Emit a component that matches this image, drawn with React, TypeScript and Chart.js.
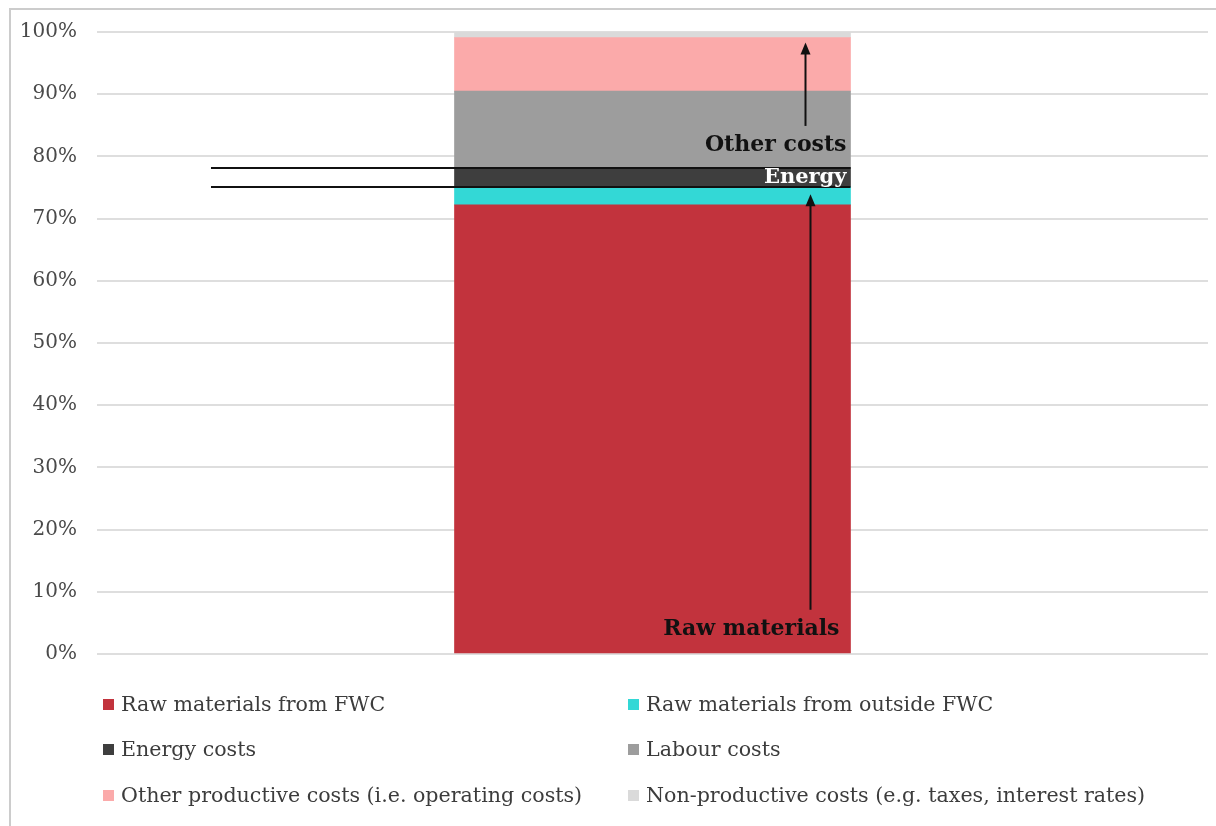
import React, { useEffect, useRef } from "react";
import { Chart, registerables } from "chart.js";

Chart.register(...registerables);

// ---- data ----
const categories = [""];
const seriesNames = [
  "Raw materials from FWC",
  "Raw materials from outside FWC",
  "Energy costs",
  "Labour costs",
  "Other productive costs (i.e. operating costs)",
  "Non-productive costs (e.g. taxes, interest rates)",
];
const rawFWC = [72.2];
const rawOutside = [2.9];
const energyCosts = [3.1];
const labourCosts = [12.3];
const otherProductive = [8.6];
const nonProductive = [0.9];
const seriesValues = [rawFWC, rawOutside, energyCosts, labourCosts, otherProductive, nonProductive];
const seriesColors = ["#c2333d", "#33d8d6", "#3e3e3e", "#9d9d9d", "#fbaaaa", "#dadada"];
const yTicks = [0, 10, 20, 30, 40, 50, 60, 70, 80, 90, 100];

// annotation values (in % units of the y axis)
const otherArrow = [84.9, 98.3];
const rawArrow = [7.1, 73.9];
const otherLabelAt = 81.8;
const rawLabelAt = 3.9;

const SERIF = "'DejaVu Serif', 'Liberation Serif', serif";

const annotationPlugin = {
  id: "annotations",
  afterDatasetsDraw(chart: any) {
    const { ctx, chartArea } = chart;
    const y = chart.scales.y;
    const bar = chart.getDatasetMeta(0).data[0] as any;
    const barRight = bar.x + bar.width / 2;
    const cum = (n: number) => seriesValues.slice(0, n).reduce((s, a) => s + a[0], 0);

    ctx.save();
    // horizontal reference lines at top of outside-FWC raw materials and top of energy
    const lineStart = chartArea.left + 0.1026 * (chartArea.right - chartArea.left);
    ctx.strokeStyle = "#111";
    ctx.lineWidth = 2;
    [cum(2), cum(3)].forEach((v) => {
      const py = Math.round(y.getPixelForValue(v));
      ctx.beginPath();
      ctx.moveTo(lineStart, py);
      ctx.lineTo(barRight, py);
      ctx.stroke();
    });

    const arrow = (x: number, from: number, to: number) => {
      const y0 = y.getPixelForValue(from);
      const y1 = y.getPixelForValue(to);
      ctx.strokeStyle = "#111";
      ctx.fillStyle = "#111";
      ctx.lineWidth = 2;
      ctx.beginPath();
      ctx.moveTo(x, y0);
      ctx.lineTo(x, y1 + 8);
      ctx.stroke();
      ctx.beginPath();
      ctx.moveTo(x, y1);
      ctx.lineTo(x - 5, y1 + 12);
      ctx.lineTo(x + 5, y1 + 12);
      ctx.closePath();
      ctx.fill();
    };
    arrow(barRight - 45, otherArrow[0], otherArrow[1]);
    arrow(barRight - 40, rawArrow[0], rawArrow[1]);

    ctx.textAlign = "right";
    ctx.textBaseline = "middle";
    ctx.font = `bold 22px ${SERIF}`;
    ctx.fillStyle = "#111";
    ctx.fillText("Other costs", barRight - 4, y.getPixelForValue(otherLabelAt));
    ctx.fillText("Raw materials", barRight - 11, y.getPixelForValue(rawLabelAt));
    ctx.fillStyle = "#ffffff";
    ctx.font = `bold 21px ${SERIF}`;
    ctx.fillText("Energy", barRight - 4, y.getPixelForValue(cum(2) + energyCosts[0] / 2));
    ctx.restore();
  },
};

export default function App() {
  const ref = useRef<HTMLCanvasElement>(null);
  useEffect(() => {
    if (!ref.current) return;
    const chart = new Chart(ref.current, {
      type: "bar",
      data: {
        labels: categories,
        datasets: seriesNames.map((name, i) => ({
          label: name,
          data: seriesValues[i],
          backgroundColor: seriesColors[i],
          borderWidth: 0,
          barThickness: 396,
        })),
      },
      options: {
        animation: false,
        responsive: true,
        maintainAspectRatio: false,
        layout: { padding: { top: 32, bottom: 172, right: 8, left: 0 } },
        plugins: { legend: { display: false }, tooltip: { enabled: false } },
        scales: {
          x: { stacked: true, display: false },
          y: {
            stacked: true,
            min: 0,
            max: 100,
            afterFit: (s: any) => {
              s.width = 97;
            },
            afterBuildTicks: (s: any) => {
              s.ticks = yTicks.map((v) => ({ value: v }));
            },
            border: { display: false },
            grid: { color: "#dedede", lineWidth: 2, drawTicks: false },
            ticks: {
              padding: 20,
              color: "#4a4a4a",
              font: { family: SERIF, size: 20 },
              callback: (v: any) => `${v}%`,
            },
          },
        },
      },
      plugins: [annotationPlugin],
    });
    return () => chart.destroy();
  }, []);

  return (
    <div style={{ position: "absolute", left: 0, top: 0, width: 1216, height: 826, background: "#fff", overflow: "hidden" }}>
      <div style={{ position: "absolute", left: 9, top: 8, width: 1300, height: 900, borderLeft: "2px solid #cccccc", borderTop: "2px solid #cccccc" }} />
      <div style={{ position: "absolute", left: 0, top: 0, width: 1216, height: 826 }}>
        <canvas ref={ref} />
      </div>
      {seriesNames.map((name, i) => (
        <div
          key={name}
          style={{
            position: "absolute",
            left: i % 2 === 0 ? 103 : 628,
            top: [704, 749, 795][Math.floor(i / 2)] - 14,
            height: 28,
            display: "flex",
            alignItems: "center",
            fontFamily: SERIF,
            fontSize: 20.6,
            color: "#3c3c3c",
            whiteSpace: "nowrap",
          }}
        >
          <span style={{ display: "inline-block", width: 11, height: 11, background: seriesColors[i], marginRight: 7 }} />
          <span>{name}</span>
        </div>
      ))}
    </div>
  );
}
